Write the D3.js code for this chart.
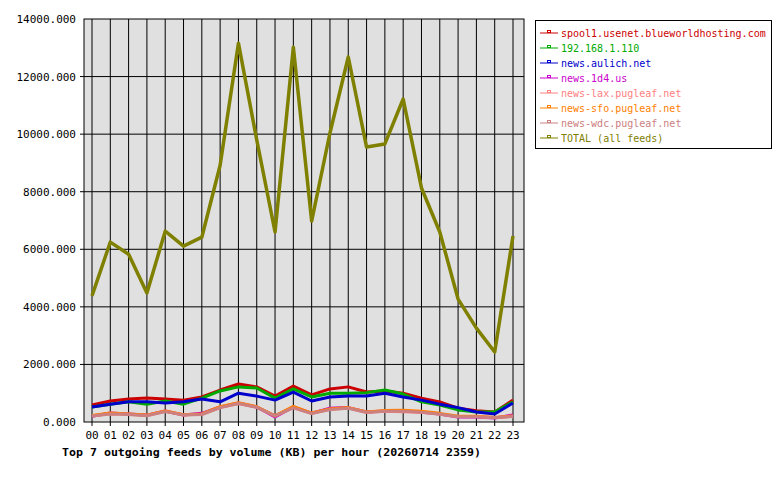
<!DOCTYPE html>
<html><head><meta charset="utf-8">
<script src="https://cdn.jsdelivr.net/npm/d3@7"></script>
<style>body{margin:0;background:#fff}text{font-family:"DejaVu Sans Mono",monospace;font-size:11px}</style>
</head><body><svg id="c" width="780" height="480"></svg>
<script>
const hours = d3.range(24).map(h => String(h).padStart(2, "0"));
const yTicks = [0, 2000, 4000, 6000, 8000, 10000, 12000, 14000];
const names = ["spool1.usenet.blueworldhosting.com", "192.168.1.110", "news.aulich.net", "news.1d4.us",
  "news-lax.pugleaf.net", "news-sfo.pugleaf.net", "news-wdc.pugleaf.net", "TOTAL (all feeds)"];
const colors = ["#cc0000", "#00aa00", "#0000cc", "#cc00cc", "#ff8080", "#ff8000", "#cc8080", "#808000"];
const spool = [590,730,800,830,800,760,870,1110,1320,1220,900,1250,940,1150,1220,1040,1080,1000,830,700,480,390,350,760];
const local = [520,620,700,620,730,620,830,1080,1220,1180,830,1150,870,1000,1000,1020,1110,970,700,590,420,350,350,700];
const aulich = [520,620,700,700,660,700,800,700,1000,900,760,1040,730,870,900,900,1000,870,760,620,500,350,280,660];
const d4 = [200,310,280,240,380,240,300,520,660,520,180,520,310,480,500,350,380,380,350,280,170,170,140,240];
const lax = [220,290,270,230,370,250,270,500,640,520,220,500,300,440,490,340,370,360,340,280,190,190,160,200];
const sfo = [230,310,280,240,380,250,280,530,670,530,210,540,310,450,500,350,400,410,370,300,200,200,160,210];
const wdc = [210,280,260,220,360,240,260,500,640,510,210,490,290,430,480,330,370,370,340,270,180,180,150,190];
const total = [4380,6250,5830,4480,6630,6110,6420,8920,13160,9800,6600,13020,6980,10040,12680,9550,9660,11220,8130,6600,4270,3260,2430,6460];
const series = [spool, local, aulich, d4, lax, sfo, wdc, total];

const svg = d3.select("#c");
const L = 84, R = 524, T = 19, B = 422;
const x = d3.scalePoint().domain(hours).range([92, 513]);
const y = d3.scaleLinear().domain([0, 14000]).range([B, T]);

svg.append("rect").attr("x", L).attr("y", T).attr("width", R - L).attr("height", B - T)
  .attr("fill", "#e0e0e0").attr("stroke", "#000");
svg.append("g").selectAll("line").data(yTicks.slice(1, -1)).join("line")
  .attr("x1", L - 4).attr("x2", R).attr("y1", d => y(d)).attr("y2", d => y(d)).attr("stroke", "#000");
svg.append("g").selectAll("line").data(hours).join("line")
  .attr("x1", d => x(d)).attr("x2", d => x(d)).attr("y1", T).attr("y2", B + 4).attr("stroke", "#000");
svg.append("g").selectAll("text").data(yTicks).join("text")
  .attr("x", L - 8).attr("y", d => y(d) + 4).attr("text-anchor", "end").text(d => d.toFixed(3));
svg.append("g").selectAll("text").data(hours).join("text")
  .attr("x", d => x(d)).attr("y", B + 17).attr("text-anchor", "middle").text(d => d);

const line = d3.line().x((d, i) => x(hours[i])).y(d => y(d));
series.forEach((s, k) => {
  svg.append("path").attr("d", line(s)).attr("fill", "none")
    .attr("stroke", colors[k]).attr("stroke-width", k === 7 ? 3.5 : 3).attr("stroke-linejoin", "round");
});

svg.append("text").attr("x", 62).attr("y", 456).attr("font-weight", "bold")
  .attr("textLength", 419).attr("lengthAdjust", "spacingAndGlyphs")
  .text("Top 7 outgoing feeds by volume (KB) per hour (20260714 2359)");

const lg = svg.append("g");
lg.append("rect").attr("x", 535.5).attr("y", 20.5).attr("width", 236).attr("height", 128).attr("fill", "#fff").attr("stroke", "#000");
names.forEach((n, k) => {
  const yy = 33 + k * 15;
  lg.append("line").attr("x1", 540).attr("x2", 558).attr("y1", yy).attr("y2", yy).attr("stroke", colors[k]);
  lg.append("rect").attr("x", 547.5).attr("y", yy - 2.5).attr("width", 3).attr("height", 2).attr("fill", "#fff").attr("stroke", colors[k]).attr("stroke-width", 1);
  lg.append("text").attr("x", 561).attr("y", yy + 4).attr("fill", colors[k]).style("font-size", "10px").text(n);
});
</script></body></html>
